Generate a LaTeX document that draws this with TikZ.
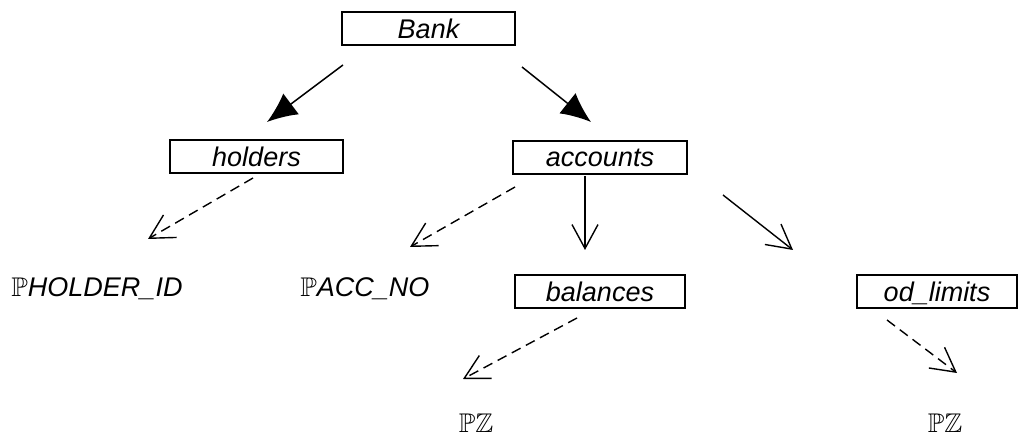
\documentclass[tikz,border=0pt]{standalone}
\usepackage{amssymb}
\usepackage{fontspec}
\setmainfont{Liberation Sans}
\usetikzlibrary{arrows.meta}
\begin{document}
\begin{tikzpicture}[x=1pt,y=-1pt,
  every node/.style={font=\fontsize{27}{32}\selectfont\itshape, inner sep=0pt},
  entity/.style={draw, line width=2pt, minimum height=33pt, text depth=0pt},
  label/.style={anchor=base},
  own/.style={line width=1.5pt, -{Latex[length=30pt,width=26pt]}},
  sub/.style={line width=1.4pt, -{Straight Barb[length=24pt,width=26pt,line width=1.4pt]}},
  attr/.style={sub, dash pattern=on 10pt off 6pt}]
\useasboundingbox (0,0) rectangle (1021,443);

% entity boxes
\node[entity, minimum width=173pt] (bank)     at (428.5,28.5) {Bank};
\node[entity, minimum width=173pt] (holders)  at (256.5,157)  {holders};
\node[entity, minimum width=174pt] (accounts) at (600,158)    {accounts};
\node[entity, minimum width=170pt] (balances) at (600,291.5)  {balances};
\node[entity, minimum width=160pt] (odlim)    at (937,292)    {od\_limits};

% attribute types
\node[label] (holderid) at (97,297)  {$\mathbb{P}$HOLDER\_ID};
\node[label] (accno)    at (365,297) {$\mathbb{P}$ACC\_NO};
\node[label] (pzbal)    at (476,433) {$\mathbb{P}\mathbb{Z}$};
\node[label] (pzod)     at (945,433) {$\mathbb{P}\mathbb{Z}$};

% connector end points
\coordinate (b-h)  at (343,65);   \coordinate (h-in)  at (267,122);
\coordinate (b-a)  at (522,67);   \coordinate (a-in)  at (591,122);
\coordinate (h-o)  at (253,178);  \coordinate (hid-in) at (148,239);
\coordinate (a-o1) at (515,187);  \coordinate (acc-in) at (410,247);
\coordinate (a-o2) at (585,176);  \coordinate (bal-in) at (585,250);
\coordinate (a-o3) at (723,195);  \coordinate (od-in)  at (793,250);
\coordinate (bl-o) at (577,318);  \coordinate (pz1-in) at (463,379);
\coordinate (od-o) at (887,320);  \coordinate (pz2-in) at (957,373);

% ownership arrows
\draw[own] (b-h) -- (h-in);
\draw[own] (b-a) -- (a-in);

% sub-relations
\draw[sub] (a-o2) -- (bal-in);
\draw[sub] (a-o3) -- (od-in);

% attribute arrows
\draw[attr] (h-o) -- (hid-in);
\draw[attr] (a-o1) -- (acc-in);
\draw[attr] (bl-o) -- (pz1-in);
\draw[attr] (od-o) -- (pz2-in);
\end{tikzpicture}
\end{document}
